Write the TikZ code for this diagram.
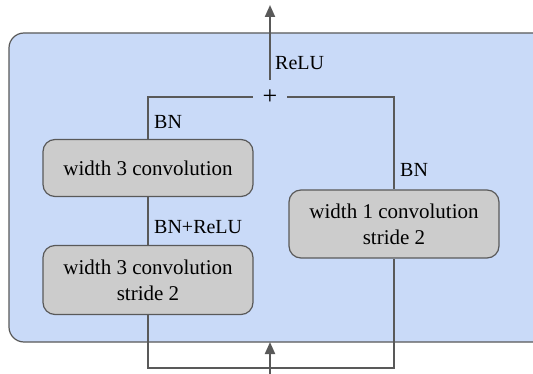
\documentclass[tikz,border=0pt]{standalone}
\usepackage{fontspec}
\setmainfont{Liberation Serif}
\usepackage{tikz}
\usetikzlibrary{arrows.meta}
\definecolor{blockblue}{HTML}{C9DAF8}
\definecolor{convgray}{HTML}{CCCCCC}
\definecolor{wiregray}{HTML}{595959}
\tikzset{
	convbox/.style={draw=wiregray, fill=convgray, line width=1.2pt, rounded corners=12pt,
		align=center, minimum width=210pt, inner sep=0pt, font=\rmfamily\fontsize{21}{26}\selectfont},
	wire/.style={draw=wiregray, line width=2pt},
	flow/.style={wire, -{Triangle[width=10pt,length=12pt]}},
	tag/.style={anchor=west, inner sep=0pt, font=\rmfamily\fontsize{20}{24}\selectfont}
}
\begin{document}
\begin{tikzpicture}[x=1pt,y=1pt]
		\useasboundingbox (0,0) rectangle (533,-374);
		\fill [blockblue, draw=wiregray, line width=1.2pt, rounded corners=15pt] (9,-33) rectangle (550,-342);
		\node [convbox, minimum height=57pt] (conv3a) at (148,-168) {width 3 convolution};
		\node [convbox, minimum height=69pt] (conv3b) at (148,-280) {width 3 convolution\\stride 2};
		\node [convbox, minimum height=68pt] (conv1) at (394,-224) {width 1 convolution\\stride 2};
		\node [minimum size=34pt, inner sep=0pt, font=\rmfamily\fontsize{26}{28}\selectfont] (plus) at (270,-97) {+};
		\coordinate (out) at (270,-5);
		\coordinate (in) at (270,-374);
		\coordinate (join) at (148,-368);
		\draw [wire] (plus.west) -| (conv3a.north);
		\draw [wire] (plus.east) -| (conv1.north);
		\draw [wire] (conv3a.south) -- (conv3b.north);
		\draw [wire] (conv3b.south) -- (join) -| (conv1.south);
		\draw [flow] (plus.north) -- (out);
		\draw [flow] (in) -- (270,-342);
		\node [tag] (relu) at (275,-63) {ReLU};
		\node [tag] (bnleft) at (154,-122) {BN};
		\node [tag] (bnright) at (400,-170) {BN};
		\node [tag] (bnrelu) at (154,-227) {BN+ReLU};
	\end{tikzpicture}
\end{document}
